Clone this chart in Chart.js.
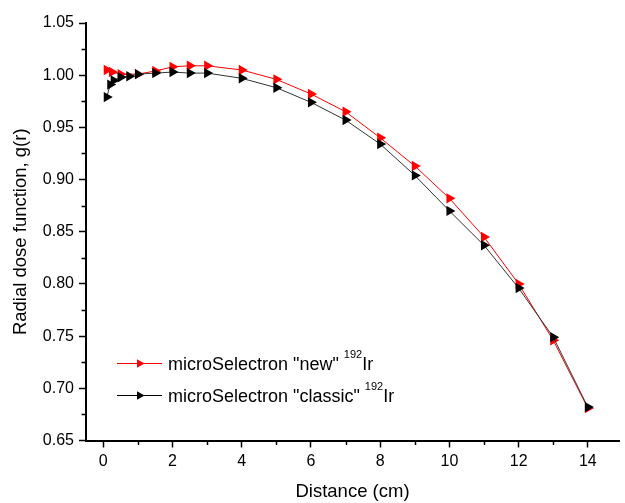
<!DOCTYPE html>
<html>
<head>
<meta charset="utf-8">
<script src="https://cdn.jsdelivr.net/npm/chart.js@4.4.1/dist/chart.umd.min.js"></script>
<style>
  html, body { margin: 0; padding: 0; background: #fff; }
  #wrap { width: 625px; height: 503px; }
</style>
</head>
<body>
<div id="wrap"><canvas id="gChart"></canvas></div>
<script>
// radial dose function g(r)
var distNew = [0.1, 0.25, 0.5, 1, 1.5, 2, 2.5, 3, 4, 5, 6, 7, 8, 9, 10, 11, 12, 13, 14];
var gNew = [1.005, 1.003, 1.001, 1.001, 1.004, 1.008, 1.009, 1.009, 1.005, 0.996, 0.982,
  0.965, 0.940, 0.913, 0.882, 0.845, 0.800, 0.746, 0.681];

var distClassic = [0.1, 0.2, 0.3, 0.5, 0.75, 1, 1.5, 2, 2.5, 3, 4, 5, 6, 7, 8, 9, 10, 11, 12, 13, 14];
var gClassic = [0.979, 0.991, 0.995, 0.998, 0.999, 1.001, 1.002, 1.003, 1.002, 1.002, 0.997,
  0.988, 0.974, 0.957, 0.934, 0.904, 0.870, 0.837, 0.796, 0.749, 0.682];

var xMajor = [0, 2, 4, 6, 8, 10, 12, 14];
var xMinor = [1, 3, 5, 7, 9, 11, 13];
var yMajor = [0.65, 0.70, 0.75, 0.80, 0.85, 0.90, 0.95, 1.00, 1.05];
var yMinor = [0.675, 0.725, 0.775, 0.825, 0.875, 0.925, 0.975, 1.025];

var legendItems = [
  { text: 'microSelectron "new" ', sup: "192", tail: "Ir", color: "#ff0000", line: "#ff0000" },
  { text: 'microSelectron "classic" ', sup: "192", tail: "Ir", color: "#000000", line: "#000000" },
];

function pts(xs, ys) {
  return xs.map(function (x, i) { return { x: x, y: ys[i] }; });
}

var FONT = "'Liberation Sans', Arial, sans-serif";

var minorTicks = {
  id: "minorTicks",
  afterDraw: function (chart) {
    var ctx = chart.ctx;
    var xs = chart.scales.x, ys = chart.scales.y;
    var area = chart.chartArea;
    ctx.save();
    ctx.strokeStyle = "#000";
    ctx.lineWidth = 1.5;
    xMinor.forEach(function (v) {
      var px = Math.round(xs.getPixelForValue(v)) + 0.5;
      ctx.beginPath();
      ctx.moveTo(px, area.bottom);
      ctx.lineTo(px, area.bottom + 4.5);
      ctx.stroke();
    });
    yMinor.forEach(function (v) {
      var py = Math.round(ys.getPixelForValue(v)) + 0.5;
      ctx.beginPath();
      ctx.moveTo(area.left, py);
      ctx.lineTo(area.left - 4.5, py);
      ctx.stroke();
    });
    ctx.restore();
  },
};

var innerLegend = {
  id: "innerLegend",
  afterDraw: function (chart) {
    var ctx = chart.ctx;
    ctx.save();
    legendItems.forEach(function (it, i) {
      var ly = 363 + i * 32;
      ctx.strokeStyle = it.line;
      ctx.lineWidth = 1;
      ctx.beginPath();
      ctx.moveTo(117, ly + 0.5);
      ctx.lineTo(162, ly + 0.5);
      ctx.stroke();
      ctx.fillStyle = it.color;
      Chart.helpers.drawPoint(ctx, { pointStyle: "triangle", radius: 5, rotation: 90, borderWidth: 0 }, 139.5, ly + 0.5);
      ctx.fillStyle = "#000";
      ctx.textBaseline = "alphabetic";
      ctx.textAlign = "left";
      ctx.font = "18px " + FONT;
      var x = 168;
      ctx.fillText(it.text, x, ly + 7);
      x += ctx.measureText(it.text).width;
      ctx.font = "11px " + FONT;
      ctx.fillText(it.sup, x, ly - 5);
      x += ctx.measureText(it.sup).width;
      ctx.font = "18px " + FONT;
      ctx.fillText(it.tail, x, ly + 7);
    });
    ctx.restore();
  },
};

var ctx = document.getElementById("gChart").getContext("2d");
var myChart = new Chart(ctx, {
  type: "line",
  data: {
    datasets: [
      {
        label: 'microSelectron "new" 192Ir',
        data: pts(distNew, gNew),
        borderColor: "#ff0000",
        backgroundColor: "#ff0000",
        borderWidth: 1,
        pointStyle: "triangle",
        pointRotation: 90,
        pointRadius: 6,
        pointBorderWidth: 0,
        tension: 0,
        order: 1,
      },
      {
        label: 'microSelectron "classic" 192Ir',
        data: pts(distClassic, gClassic),
        borderColor: "#333333",
        backgroundColor: "#000000",
        borderWidth: 1,
        pointStyle: "triangle",
        pointRotation: 90,
        pointRadius: 6,
        pointBorderWidth: 0,
        tension: 0,
        order: 0,
      },
    ],
  },
  options: {
    responsive: true,
    maintainAspectRatio: false,
    animation: false,
    layout: { padding: { top: 23, right: 0, bottom: 0, left: 0 } },
    plugins: {
      legend: { display: false },
      tooltip: { enabled: false },
    },
    scales: {
      x: {
        type: "linear",
        min: -0.5,
        max: 14.9,
        afterBuildTicks: function (s) {
          s.ticks = xMajor.map(function (v) { return { value: v }; });
        },
        afterFit: function (s) { s.height = 62.5; },
        border: { color: "#000", width: 2 },
        grid: { drawOnChartArea: false, drawTicks: true, tickLength: 7, tickColor: "#000", tickWidth: 1.5 },
        ticks: { color: "#000", font: { family: FONT, size: 16 }, padding: 4, maxRotation: 0 },
        title: {
          display: true,
          text: "Distance (cm)",
          color: "#000",
          font: { family: FONT, size: 18.5 },
          padding: { top: 0, bottom: 0 },
        },
      },
      y: {
        min: 0.65,
        max: 1.05,
        afterBuildTicks: function (s) {
          s.ticks = yMajor.map(function (v) { return { value: v }; });
        },
        afterFit: function (s) { s.width = 86; },
        border: { color: "#000", width: 2 },
        grid: { drawOnChartArea: false, drawTicks: true, tickLength: 7, tickColor: "#000", tickWidth: 1.5 },
        ticks: {
          color: "#000",
          font: { family: FONT, size: 16 },
          padding: 5,
          callback: function (v) { return Number(v).toFixed(2); },
        },
        title: {
          display: true,
          text: "Radial dose function, g(r)",
          color: "#000",
          font: { family: FONT, size: 18.5 },
          padding: { top: 10, bottom: 0 },
        },
      },
    },
  },
  plugins: [minorTicks, innerLegend],
});
</script>
</body>
</html>
